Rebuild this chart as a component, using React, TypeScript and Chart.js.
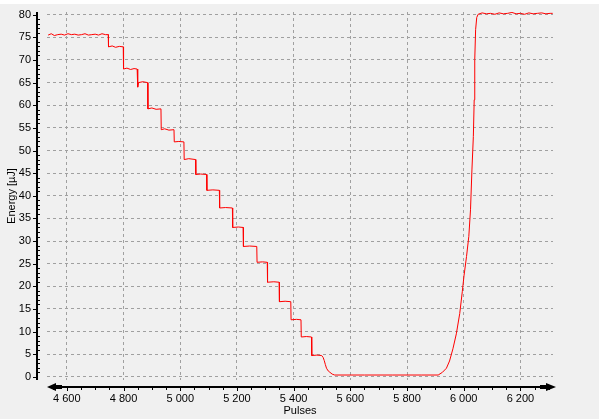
import React, { useEffect, useRef } from 'react';
import { Chart, registerables } from 'chart.js';

Chart.register(...registerables);

const pulses = [
  4534, 4545, 4556, 4568, 4580, 4592, 4604, 4616, 4628, 4640, 4652, 4664, 4676, 4688, 4700, 4712, 4724, 4736, 4746,
  4747, 4760, 4772, 4785, 4799,
  4800, 4812, 4825, 4837, 4848,
  4849, 4851, 4853, 4868, 4885,
  4886, 4900, 4915, 4932,
  4933, 4945, 4960, 4978,
  4979, 4995, 5013,
  5014, 5030, 5054,
  5055, 5072, 5093,
  5094, 5115, 5138,
  5139, 5160, 5184,
  5185, 5205, 5222,
  5223, 5245, 5270,
  5271, 5290, 5307,
  5308, 5330, 5349,
  5350, 5370, 5390,
  5391, 5410, 5426,
  5427, 5445, 5463,
  5464, 5482, 5499,
  5504, 5508, 5512, 5516, 5522, 5528, 5536, 5545,
  5650, 5750, 5850, 5910,
  5925, 5939, 5950, 5962, 5974, 5986, 5995, 6001, 6010, 6018, 6024, 6029, 6034, 6037, 6039, 6042, 6046,
  6051, 6065, 6080, 6095, 6110, 6125, 6140, 6155, 6170, 6185, 6200, 6215, 6230, 6245, 6260, 6275, 6290, 6305, 6314,
];

const energy = [
  75.5, 75.8, 75.4, 75.6, 75.7, 75.5, 75.8, 75.6, 75.7, 75.5, 75.6, 75.8, 75.5, 75.6, 75.7, 75.5, 75.8, 75.6, 75.6,
  72.9, 73.1, 72.8, 73.0, 72.9,
  68.0, 68.2, 67.9, 68.1, 68.0,
  65.0, 64.0, 65.0, 65.2, 65.0,
  59.2, 59.4, 59.1, 59.2,
  54.6, 54.8, 54.5, 54.6,
  51.9, 52.0, 51.9,
  48.0, 48.2, 48.0,
  44.7, 44.8, 44.7,
  41.2, 41.3, 41.2,
  37.3, 37.4, 37.3,
  33.0, 33.1, 33.0,
  28.8, 28.9, 28.8,
  25.3, 25.4, 25.3,
  20.9, 21.0, 20.9,
  16.6, 16.7, 16.6,
  12.6, 12.7, 12.6,
  8.8, 8.9, 8.8,
  4.7, 4.8, 4.7,
  4.3, 3.6, 2.7, 1.9, 1.3, 1.0, 0.6, 0.4,
  0.4, 0.4, 0.4, 0.4,
  1.0, 1.9, 3.5, 6.2, 9.5, 14.0, 18.8, 22.3, 26.6, 31.0, 36.9, 45.7, 53.1, 61.2, 70.1, 76.7, 79.4,
  80.1, 80.4, 80.2, 80.3, 80.1, 80.4, 80.2, 80.3, 80.5, 80.2, 80.3, 80.1, 80.4, 80.2, 80.3, 80.4, 80.2, 80.3, 80.3,
];

const xTickValues = [4600, 4800, 5000, 5200, 5400, 5600, 5800, 6000, 6200];
const yTickValues = [0, 5, 10, 15, 20, 25, 30, 35, 40, 45, 50, 55, 60, 65, 70, 75, 80];
const xTitle = 'Pulses';
const yTitle = 'Energy [µJ]';

const fmtThousands = (v: number) => String(v).replace(/\B(?=(\d{3})+(?!\d))/g, ' ');

const decorPlugin = {
  id: 'decor',
  beforeDraw(chart: any) {
    const { ctx, width, height } = chart;
    ctx.save();
    ctx.fillStyle = '#f0f0f0';
    ctx.fillRect(0, 0, width, height);
    ctx.fillStyle = '#ffffff';
    ctx.fillRect(0, 0, width, 4);
    ctx.restore();
  },
  afterDraw(chart: any) {
    const { ctx, chartArea } = chart;
    const xs = chart.scales.x;
    const ys = chart.scales.y;
    ctx.save();
    ctx.fillStyle = '#000000';
    // vertical axis line
    ctx.fillRect(36, chartArea.top, 2, chartArea.bottom - chartArea.top);
    for (let v = 0; v <= 80; v += 1) {
      const py = Math.round(ys.getPixelForValue(v));
      if (v % 5 === 0) ctx.fillRect(33, py, 3, 1);
      else ctx.fillRect(38, py, 2, 1);
    }
    // horizontal axis with arrows
    const axY = 386;
    ctx.fillRect(56, axY, 490, 2);
    ctx.fillRect(56, axY - 1, 6, 4);
    ctx.fillRect(540, axY - 1, 6, 4);
    ctx.beginPath();
    ctx.moveTo(47, axY + 1);
    ctx.lineTo(56, axY - 3);
    ctx.lineTo(56, axY + 5);
    ctx.closePath();
    ctx.fill();
    ctx.beginPath();
    ctx.moveTo(556, axY + 1);
    ctx.lineTo(546, axY - 3);
    ctx.lineTo(546, axY + 5);
    ctx.closePath();
    ctx.fill();
    for (let v = 4550; v <= 6300; v += 50) {
      const px = Math.round(xs.getPixelForValue(v));
      ctx.fillRect(px, axY + 2, 1, v % 200 === 0 ? 3 : 2);
    }
    ctx.restore();
  },
};

export default function App() {
  const canvasRef = useRef<HTMLCanvasElement | null>(null);

  useEffect(() => {
    if (!canvasRef.current) return;
    Chart.defaults.font.family = '"Liberation Sans", Arial, sans-serif';
    const points = pulses.map((p, i) => ({ x: p, y: energy[i] }));
    const chart = new Chart(canvasRef.current, {
      type: 'line',
      data: {
        datasets: [
          {
            data: points,
            borderColor: '#ff0000',
            borderWidth: 1,
            pointRadius: 0,
            tension: 0,
            fill: false,
          },
        ],
      },
      options: {
        animation: false,
        responsive: false,
        maintainAspectRatio: false,
        devicePixelRatio: 1,
        layout: { padding: { top: 12, right: 46, left: 0, bottom: 0 } },
        plugins: { legend: { display: false }, tooltip: { enabled: false } },
        scales: {
          x: {
            type: 'linear',
            min: 4530,
            max: 6315,
            afterBuildTicks: (s: any) => {
              s.ticks = xTickValues.map((v) => ({ value: v }));
            },
            afterFit: (s: any) => {
              s.height = 39;
              s.paddingLeft = 0;
              s.paddingRight = 0;
            },
            grid: { color: '#a0a0a0', drawTicks: false, lineWidth: 1 },
            border: { display: false, dash: [3, 3] },
            ticks: {
              padding: 12,
              color: '#000000',
              font: { size: 11 },
              maxRotation: 0,
              autoSkip: false,
              callback: (v: any) => fmtThousands(Number(v)),
            },
            title: {
              display: true,
              text: xTitle,
              color: '#000000',
              font: { size: 11 },
              padding: { top: 0, bottom: 1 },
            },
          },
          y: {
            type: 'linear',
            min: -0.7,
            max: 80.6,
            afterBuildTicks: (s: any) => {
              s.ticks = yTickValues.map((v) => ({ value: v }));
            },
            afterFit: (s: any) => {
              s.width = 47;
              s.paddingTop = 0;
              s.paddingBottom = 0;
            },
            grid: { color: '#a0a0a0', drawTicks: false, lineWidth: 1 },
            border: { display: false, dash: [3, 3] },
            ticks: {
              padding: 16,
              color: '#000000',
              font: { size: 11 },
              autoSkip: false,
              callback: (v: any) => String(v),
            },
            title: {
              display: true,
              text: yTitle,
              color: '#000000',
              font: { size: 11 },
              padding: { top: 5, bottom: 0 },
            },
          },
        },
      },
      plugins: [decorPlugin],
    });
    return () => chart.destroy();
  }, []);

  return (
    <canvas
      ref={canvasRef}
      width={599}
      height={419}
      style={{ position: 'absolute', left: 0, top: 0, width: 599, height: 419, display: 'block' }}
    />
  );
}
